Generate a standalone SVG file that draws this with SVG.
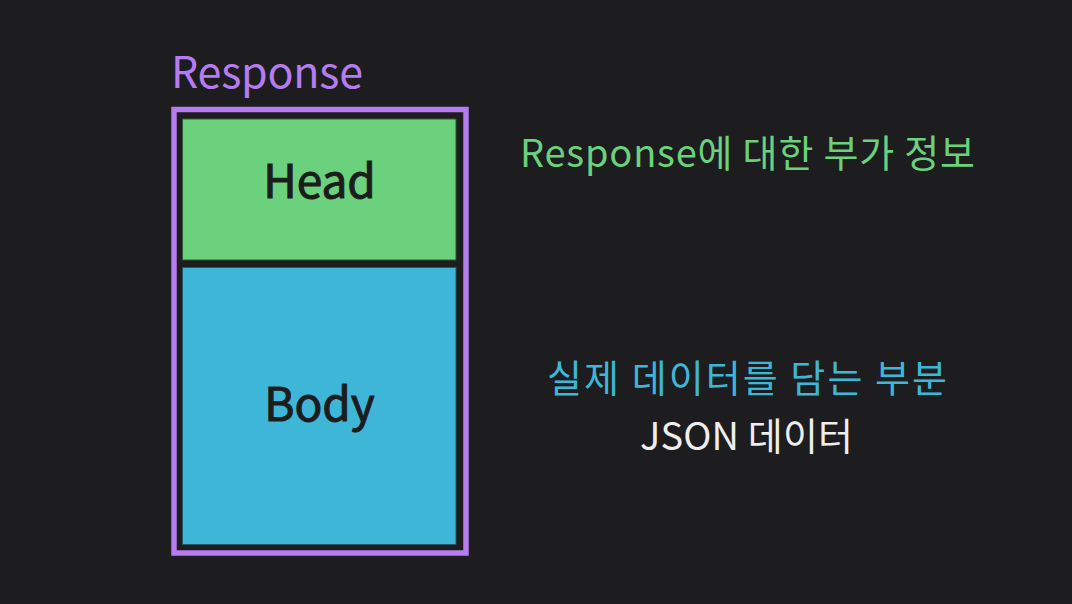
<svg xmlns="http://www.w3.org/2000/svg" width="1072" height="604" viewBox="0 0 1072 604">
<style>
text{font-family:"Noto Sans CJK KR","Noto Sans",sans-serif}
.box{font-size:46px;font-weight:normal;fill:#1c1c1c;stroke:#1c1c1c;stroke-width:1;text-anchor:middle}
.desc{font-size:38px;text-anchor:middle}
</style>
<rect width="1072" height="604" fill="#1d1c1e"/>
<g id="response">
<text x="171" y="88" font-size="43" fill="#b47cf0" textLength="192">Response</text>
<rect x="174" y="109.5" width="292" height="443.5" fill="none" stroke="#b47cf0" stroke-width="5.5"/>
</g>
<g id="head">
<rect x="182.5" y="119" width="273.5" height="141" fill="#6bd17c" stroke="#2c5a33" stroke-width="1"/>
<text class="box" x="319.5" y="198">Head</text>
</g>
<g id="body">
<rect x="182.5" y="267.5" width="273.5" height="277" fill="#3db6d8" stroke="#21596a" stroke-width="1"/>
<text class="box" x="319.5" y="421">Body</text>
</g>
<g id="connectors"></g>
<g id="labels">
<text class="desc" x="747.5" y="167" fill="#6bd17c" textLength="455">Response에 대한 부가 정보</text>
<text class="desc" x="747" y="392" fill="#3db6d8" font-size="39" textLength="400">실제 데이터를 담는 부분</text>
<text class="desc" x="746.5" y="450" fill="#eeeeee" textLength="213">JSON 데이터</text>
</g>
</svg>
